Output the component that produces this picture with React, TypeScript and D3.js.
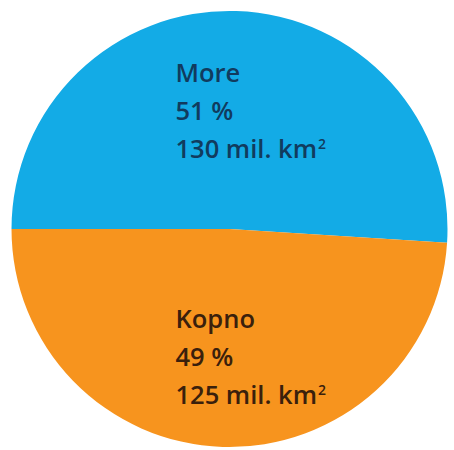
import React, { useEffect, useRef } from 'react';
import * as d3 from 'd3';

// podaci
const labels = ['More', 'Kopno'];
const percents = [51, 49];
const areas = [130, 125]; // mil. km²
const colors = ['#13abe6', '#f7941e'];
const textColors = ['#113b5e', '#3a200c'];

export default function App() {
  const svgRef = useRef<SVGSVGElement>(null);

  useEffect(() => {
    if (!svgRef.current) return;
    const svg = d3.select(svgRef.current);
    svg.selectAll('*').remove();

    const cx = 229.5;
    const cy = 229;
    const r = 218;

    const data = labels.map((label, i) => ({ label, pct: percents[i], area: areas[i], i }));

    const pie = d3
      .pie<any>()
      .value(d => d.pct)
      .sort(null)
      .startAngle(-Math.PI / 2)
      .endAngle((3 * Math.PI) / 2);

    const arc = d3.arc<any>().innerRadius(0).outerRadius(r);

    const g = svg.append('g').attr('transform', `translate(${cx},${cy})`);

    g.selectAll('path')
      .data(pie(data))
      .join('path')
      .attr('d', arc)
      .attr('fill', d => colors[d.data.i]);

    // tekst - blok poravnat lijevo
    const textX = -54;
    const blockTop = [-147, 99];
    const lineH = 38;

    data.forEach((d, i) => {
      const t = g
        .append('text')
        .attr('x', textX)
        .attr('y', blockTop[i])
        .attr('fill', textColors[i])
        .attr('font-family', '"Open Sans", "Noto Sans", sans-serif')
        .attr('font-weight', 600)
        .attr('font-size', 25.5);

      t.append('tspan').attr('x', textX).attr('dy', 0).text(d.label);
      t.append('tspan').attr('x', textX).attr('dy', lineH).text(`${d.pct} %`);
      t.append('tspan').attr('x', textX).attr('dy', lineH).text(`${d.area} mil. km`);
      t.append('tspan')
        .attr('font-size', 14)
        .attr('dx', 1)
        .attr('dy', -9)
        .text('2');
    });
  }, []);

  return (
    <svg
      ref={svgRef}
      width={454}
      height={450}
      viewBox="0 0 454 450"
      style={{ position: 'absolute', left: 0, top: 0, display: 'block', background: '#fff' }}
    />
  );
}
